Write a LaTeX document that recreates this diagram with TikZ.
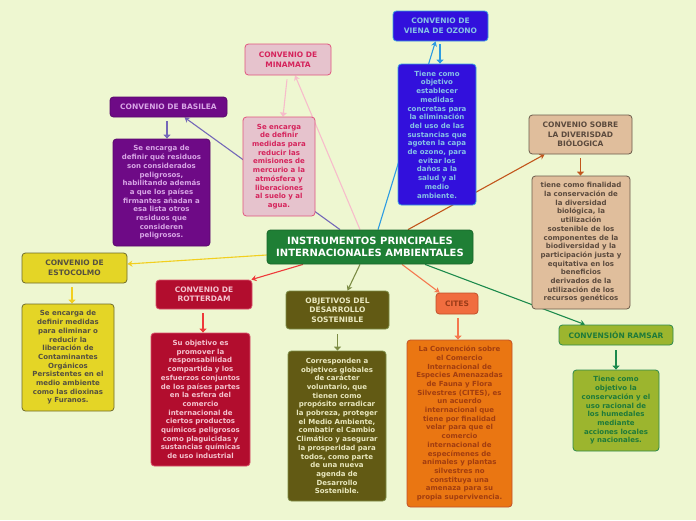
\documentclass[tikz,border=0pt]{standalone}
\usepackage{fontspec}
\setmainfont{DejaVu Sans}
\usepackage{xcolor}
\usepackage{tikz}
\usetikzlibrary{arrows.meta,backgrounds}
\definecolor{paper}{HTML}{EEF7D1}
\definecolor{hubgreen}{HTML}{1F7F35}
\definecolor{basfill}{HTML}{6E0A86}
\definecolor{basink}{HTML}{D8A6E6}
\definecolor{basline}{HTML}{7468B8}
\definecolor{minfill}{HTML}{E6C3CD}
\definecolor{minedge}{HTML}{E0557E}
\definecolor{minink}{HTML}{D5245C}
\definecolor{minline}{HTML}{F7BCCB}
\definecolor{ozfill}{HTML}{3210DC}
\definecolor{ozedge}{HTML}{3AA0E0}
\definecolor{ozink}{HTML}{86C2E6}
\definecolor{ozline}{HTML}{2D9CE2}
\definecolor{biofill}{HTML}{E0BE9C}
\definecolor{bioedge}{HTML}{6B5B4B}
\definecolor{bioink}{HTML}{5B4A3D}
\definecolor{bioline}{HTML}{C2561C}
\definecolor{estfill}{HTML}{E4D526}
\definecolor{estedge}{HTML}{6E6B2C}
\definecolor{estink}{HTML}{555040}
\definecolor{estline}{HTML}{F2CF1E}
\definecolor{rotfill}{HTML}{B20D2E}
\definecolor{rotedge}{HTML}{D8506A}
\definecolor{rotink}{HTML}{F4C2CE}
\definecolor{rotline}{HTML}{EE3A3A}
\definecolor{odsfill}{HTML}{625A14}
\definecolor{odsedge}{HTML}{7C8C45}
\definecolor{odsink}{HTML}{E9E8BE}
\definecolor{odsline}{HTML}{7C8C45}
\definecolor{citfill}{HTML}{F06D3F}
\definecolor{citedge}{HTML}{C0502A}
\definecolor{citink}{HTML}{9A3B18}
\definecolor{citdeep}{HTML}{EA7612}
\definecolor{citdeepink}{HTML}{A13D10}
\definecolor{citline}{HTML}{F5784E}
\definecolor{ramfill}{HTML}{9CB52E}
\definecolor{ramedge}{HTML}{2C8A4C}
\definecolor{ramink}{HTML}{1E7A3A}
\definecolor{ramline}{HTML}{1C8A4C}
\tikzset{
    every picture/.style={line cap=round,line join=round},
    hub/.style={fill=hubgreen,draw=hubgreen!80!black,line width=0.8pt,rounded corners=1.2mm,
      text=white,align=center,inner sep=2pt,font=\fontsize{10}{12}\selectfont\bfseries},
    topic/.style={line width=0.8pt,rounded corners=1.2mm,align=center,inner sep=2pt,
      font=\fontsize{7.5}{9.5}\selectfont\bfseries},
    detail/.style={line width=0.8pt,rounded corners=1.2mm,align=center,inner sep=2pt,
      font=\fontsize{7}{8.7}\selectfont\bfseries},
    link/.style={line width=1.1pt,-{Stealth[length=5pt,width=6pt]}},
    drop/.style={line width=1.1pt,-{Triangle[length=4pt,width=7pt]}},
    basilea/.style={fill=basfill,draw=basfill!80!black,text=basink},
    minamata/.style={fill=minfill,draw=minedge,text=minink},
    ozono/.style={fill=ozfill,draw=ozedge,text=ozink},
    bio/.style={fill=biofill,draw=bioedge,text=bioink},
    estocolmo/.style={fill=estfill,draw=estedge,text=estink},
    rotterdam/.style={fill=rotfill,draw=rotedge,text=rotink},
    ods/.style={fill=odsfill,draw=odsedge,text=odsink},
    cites/.style={fill=citfill,draw=citedge,text=citink},
    ramsar/.style={fill=ramfill,draw=ramedge,text=ramink}
}
\begin{document}
\begin{tikzpicture}[x=1pt,y=-1pt]
  \useasboundingbox (0,0) rectangle (696,520);
  % centre
  \node[hub,minimum width=206pt,minimum height=34pt] (ctr) at (370,247)
    {INSTRUMENTOS PRINCIPALES\\INTERNACIONALES AMBIENTALES};
  % Basilea
  \node[topic,basilea,minimum width=117pt,minimum height=20pt] (bas) at (168.5,107) {CONVENIO DE BASILEA};
  \node[detail,basilea,minimum width=97pt,minimum height=107pt] (basd) at (161.5,192.5)
    {Se encarga de\\definir qué residuos\\son considerados\\peligrosos,\\habilitando además\\a que los países\\firmantes añadan a\\esa lista otros\\residuos que\\consideren\\peligrosos.};
  % Minamata
  \node[topic,minamata,minimum width=86pt,minimum height=31pt] (mina) at (288,59.5) {CONVENIO DE\\MINAMATA};
  \node[detail,minamata,minimum width=72pt,minimum height=99pt] (minad) at (279,166.5)
    {Se encarga\\de definir\\medidas para\\reducir las\\emisiones de\\mercurio a la\\atmósfera y\\liberaciones\\al suelo y al\\agua.};
  % Viena
  \node[topic,ozono,minimum width=95pt,minimum height=30pt] (oz) at (440.5,26) {CONVENIO DE\\VIENA DE OZONO};
  \node[detail,ozono,minimum width=78pt,minimum height=141pt] (ozd) at (437,134.5)
    {Tiene como\\objetivo\\establecer\\medidas\\concretas para\\la eliminación\\del uso de las\\sustancias que\\agoten la capa\\de ozono, para\\evitar los\\daños a la\\salud y al\\medio\\ambiente.};
  % Diversidad biologica
  \node[topic,bio,minimum width=103pt,minimum height=39pt] (cbd) at (580.5,134.5) {CONVENIO SOBRE\\LA DIVERISDAD\\BIÓLOGICA};
  \node[detail,bio,minimum width=98pt,minimum height=133pt] (cbdd) at (581,242.5)
    {tiene como finalidad\\la conservación de\\la diversidad\\biológica, la\\utilización\\sostenible de los\\componentes de la\\biodiversidad y la\\participación justa y\\equitativa en los\\beneficios\\derivados de la\\utilización de los\\recursos genéticos};
  % Estocolmo
  \node[topic,estocolmo,minimum width=105pt,minimum height=30pt] (est) at (74.5,268) {CONVENIO DE\\ESTOCOLMO};
  \node[detail,estocolmo,minimum width=92pt,minimum height=107pt] (estd) at (68,357.5)
    {Se encarga de\\definir medidas\\para eliminar o\\reducir la\\liberación de\\Contaminantes\\Orgánicos\\Persistentes en el\\medio ambiente\\como las dioxinas\\y Furanos.};
  % Rotterdam
  \node[topic,rotterdam,minimum width=96pt,minimum height=29pt] (rot) at (204,294.5) {CONVENIO DE\\ROTTERDAM};
  \node[detail,rotterdam,minimum width=99pt,minimum height=133pt] (rotd) at (200.5,399.5)
    {Su objetivo es\\promover la\\responsabilidad\\compartida y los\\esfuerzos conjuntos\\de los países partes\\en la esfera del\\comercio\\internacional de\\ciertos productos\\químicos peligrosos\\como plaguicidas y\\sustancias químicas\\de uso industrial};
  % ODS
  \node[topic,ods,minimum width=103pt,minimum height=38pt] (ods) at (337.5,310) {OBJETIVOS DEL\\DESARROLLO\\SOSTENIBLE};
  \node[detail,ods,minimum width=98pt,minimum height=150pt] (odsd) at (337,426)
    {Corresponden a\\objetivos globales\\de carácter\\voluntario, que\\tienen como\\propósito erradicar\\la pobreza, proteger\\el Medio Ambiente,\\combatir el Cambio\\Climático y asegurar\\la prosperidad para\\todos, como parte\\de una nueva\\agenda de\\Desarrollo\\Sostenible.};
  % CITES
  \node[topic,cites,minimum width=42pt,minimum height=21pt] (cit) at (457,303.5) {CITES};
  \node[detail,fill=citdeep,draw=citedge,text=citdeepink,minimum width=105pt,minimum height=167pt] (citd) at (459.5,423.5)
    {La Convención sobre\\el Comercio\\Internacional de\\Especies Amenazadas\\de Fauna y Flora\\Silvestres (CITES), es\\un acuerdo\\internacional que\\tiene por finalidad\\velar para que el\\comercio\\internacional de\\especímenes de\\animales y plantas\\silvestres no\\constituya una\\amenaza para su\\propia supervivencia.};
  % Ramsar
  \node[topic,ramsar,minimum width=114pt,minimum height=20pt] (ram) at (616,335) {CONVENSIÓN RAMSAR};
  \node[detail,ramsar,minimum width=86pt,minimum height=81pt] (ramd) at (616,410.5)
    {Tiene como\\objetivo la\\conservación y el\\uso racional de\\los humedales\\mediante\\acciones locales\\y nacionales.};
  \begin{scope}[on background layer]
    \fill[paper] (0,0) rectangle (696,520);
    % centre to topics
    \draw[link,basline] ([xshift=-30pt]ctr.north) -- ([xshift=16pt]bas.south);
    \draw[link,minline] ([xshift=-10pt]ctr.north) -- ([xshift=7pt]mina.south);
    \draw[link,ozline] ([xshift=8pt]ctr.north) -- ([xshift=-5pt]oz.south);
    \draw[link,bioline] ([xshift=38pt]ctr.north) -- ([xshift=16pt]cbd.south west);
    \draw[link,estline] ([yshift=-8pt]ctr.west) -- ([yshift=4pt]est.east);
    \draw[link,rotline] ([xshift=-67pt]ctr.south) -- ([xshift=-1pt]rot.north east);
    \draw[link,odsline] ([xshift=-10pt]ctr.south) -- ([xshift=10pt]ods.north);
    \draw[link,citline] ([xshift=32pt]ctr.south) -- ([xshift=4pt]cit.north west);
    \draw[link,ramline] ([xshift=55pt]ctr.south) -- ([xshift=-31pt]ram.north);
    % topics to details
    \draw[drop,basline] ([xshift=-1.5pt,yshift=-4pt]bas.south) -- ([xshift=5.5pt]basd.north);
    \draw[drop,minline] ([xshift=-1pt,yshift=-4pt]mina.south) -- ([xshift=4pt]minad.north);
    \draw[drop,ozline] ([xshift=-0.5pt,yshift=-3pt]oz.south) -- ([xshift=3pt]ozd.north);
    \draw[drop,bioline] ([yshift=-4pt]cbd.south) -- ([xshift=-0.5pt]cbdd.north);
    \draw[drop,estline] ([xshift=-2.5pt,yshift=-4pt]est.south) -- ([xshift=4pt]estd.north);
    \draw[drop,rotline] ([xshift=-1pt,yshift=-4pt]rot.south) -- ([xshift=2.5pt]rotd.north);
    \draw[drop,odsline] ([yshift=-5pt]ods.south) -- ([xshift=0.5pt]odsd.north);
    \draw[drop,citline] ([xshift=1pt,yshift=-4pt]cit.south) -- ([xshift=-1.5pt]citd.north);
    \draw[drop,ramline] ([yshift=-5pt]ram.south) -- (ramd.north);
  \end{scope}
\end{tikzpicture}
\end{document}
